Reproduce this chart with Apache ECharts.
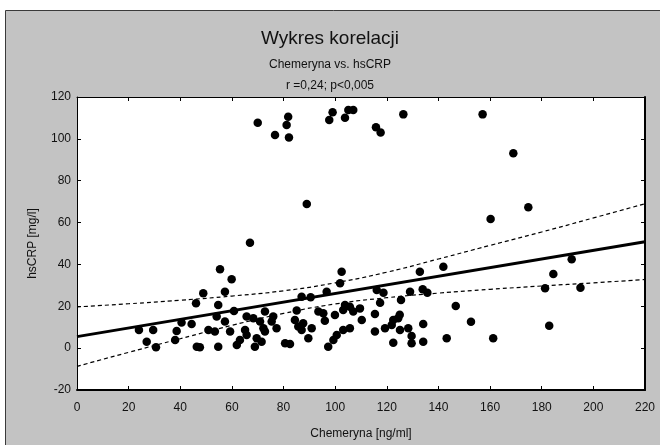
<!DOCTYPE html>
<html>
<head>
<meta charset="utf-8">
<script src="https://cdn.jsdelivr.net/npm/echarts@6/dist/echarts.min.js"></script>
<style>
  html, body { margin: 0; padding: 0; background: #fff; }
  #chart { width: 660px; height: 445px; }
</style>
</head>
<body>
<div id="chart"></div>
<script>
// wykres korelacji: chemeryna vs hsCRP

// pomiary (x = chemeryna, y = hsCRP)
const chemeryna = [
  70, 76.7, 81.2, 81.8, 82.1, 97.7, 99, 103.8, 105.1, 107, 115.8, 117.6, 126.4, 157.1, 169, 174.8, 160.2, 89, 67,
  24, 29.5, 27, 30.6, 38.6, 38, 40.5, 44.4, 46.1, 46.4, 47.6,
  48.9, 50.9, 53.4, 54.1, 54.7, 54.7, 55.4, 57.3, 57.3, 59.3, 59.9, 60.8, 61.9, 63.1, 65.1, 65.7, 65.7, 68.3, 68.9, 69.6,
  70.9, 72.2, 72.8, 72.8, 71.5, 75.4, 76, 77.3, 80.6, 82.5, 84.4, 85.1, 85.7, 87, 87, 87.6, 89.6, 90.5, 90.9,
  93.5, 95.4, 96, 96.7, 97.3, 99.3, 99.9, 100.6, 101.9, 102.5, 103.1, 103.1, 103.8, 105.7, 105.7, 107, 110.3, 109.6,
  115.4, 115.4, 116.1, 117.4, 118.7, 119.3, 121.9, 122.5, 122.5, 124.4, 125.1, 125, 125.5, 128.3, 129, 129.6, 129.6,
  132.8, 134.1, 134.1, 133.9, 135.7,
  141.9, 143.2, 146.7, 152.6, 161.2, 181.3, 182.9, 184.5, 191.6, 195
];
const hscrp = [
  107.7, 101.8, 106.6, 110.6, 100.7, 109, 112.7, 110.1, 113.8, 113.8, 105.5, 103, 111.7, 111.7, 93.1, 67.3, 61.7, 68.9, 50.4,
  8.7, 8.7, 3.1, 0.4, 8.2, 3.9, 12.2, 11.5, 21.4, 0.7, 0.4,
  26.2, 8.7, 7.9, 15.1, 20.6, 0.7, 37.7, 27, 12.7, 7.9, 32.9, 17.8, 1.5, 3.9, 8.7, 15.1, 6.3, 14.3, 0.7, 4.7,
  12.7, 9.5, 17.5, 7.9, 3.1, 12.7, 15.1, 9.5, 2.3, 2, 13.4, 18, 10.3, 8.7, 24.6, 11.9, 4.7, 24.3, 9.5,
  17.5, 16.7, 13.1, 27, 0.7, 3.9, 15.8, 6.3, 31, 36.5, 18.2, 8.7, 20.6, 19.8, 9.5, 17.5, 13.4, 19,
  16.3, 7.9, 27.8, 21.7, 26.5, 9.5, 11.1, 2.6, 13.5, 14.3, 8.7, 16, 23, 9.5, 27, 5.8, 2.3,
  36.5, 11.5, 3.1, 28.1, 26.5,
  38.9, 4.7, 20.1, 12.6, 4.7, 28.6, 10.7, 35.4, 42.5, 28.9
];

// prosta regresji i przedzial ufnosci
const fitX = [0, 220];
const fitY = [5.5, 50.8];
const bandX = [0, 20, 40, 60, 80, 100, 120, 140, 160, 180, 200, 220];
const upperBand = [19.7, 21.2, 22.9, 24.9, 27.4, 31.2, 36.3, 42.6, 49.1, 55.5, 62.2, 69.0];
const lowerBand = [-8.7, -2.0, 4.5, 10.9, 16.6, 21.1, 24.1, 26.3, 28.1, 29.7, 31.2, 32.8];

// opisy osi
const xTicks = { min: 0, max: 220, step: 20 };
const yTicks = { min: -20, max: 120, step: 20 };

function zip(a, b) {
  return a.map((v, i) => [v, b[i]]);
}

const FONT = '"Liberation Sans", Arial, sans-serif';
const INK = '#111';

let myChart = echarts.init(document.getElementById('chart'));

let tickStyle = { show: true, inside: true, length: 4, lineStyle: { color: '#000', width: 1 } };

let option = {
  backgroundColor: '#fff',
  animation: false,
  graphic: [{
    type: 'rect',
    z: -10,
    shape: { x: 5.5, y: 10.5, width: 660, height: 440 },
    style: { fill: '#c3c3c3', stroke: '#3a3a3a', lineWidth: 1 }
  }],
  title: [
    { text: 'Wykres korelacji', left: 'center', top: 24,
      textStyle: { fontFamily: FONT, fontSize: 19, fontWeight: 'normal', color: INK } },
    { text: 'Chemeryna vs. hsCRP', left: 'center', top: 54,
      textStyle: { fontFamily: FONT, fontSize: 12, fontWeight: 'normal', color: INK } },
    { text: 'r =0,24; p<0,005', left: 'center', top: 75,
      textStyle: { fontFamily: FONT, fontSize: 12, fontWeight: 'normal', color: INK } }
  ],
  grid: {
    left: 77, right: 15, top: 97, bottom: 55,
    show: true, backgroundColor: '#fff', borderWidth: 0
  },
  xAxis: [{
    type: 'value', position: 'bottom',
    min: xTicks.min, max: xTicks.max, interval: xTicks.step,
    name: 'Chemeryna [ng/ml]', nameLocation: 'middle', nameGap: 38,
    nameTextStyle: { fontFamily: FONT, fontSize: 12, color: INK },
    axisLine: { show: true, onZero: false, lineStyle: { color: '#000', width: 2 } },
    axisTick: tickStyle,
    axisLabel: { fontFamily: FONT, fontSize: 12, color: INK, margin: 12 },
    splitLine: { show: false }
  }, {
    type: 'value', position: 'top',
    min: xTicks.min, max: xTicks.max, interval: xTicks.step,
    axisLine: { show: true, onZero: false, lineStyle: { color: '#000', width: 1 } },
    axisTick: tickStyle,
    axisLabel: { show: false },
    splitLine: { show: false }
  }],
  yAxis: [{
    type: 'value', position: 'left',
    min: yTicks.min, max: yTicks.max, interval: yTicks.step,
    name: 'hsCRP [mg/l]', nameLocation: 'middle', nameGap: 38, nameRotate: 90,
    nameTextStyle: { fontFamily: FONT, fontSize: 12, color: INK },
    axisLine: { show: true, onZero: false, lineStyle: { color: '#000', width: 1 } },
    axisTick: tickStyle,
    axisLabel: { fontFamily: FONT, fontSize: 12, color: INK, margin: 6 },
    splitLine: { show: false }
  }, {
    type: 'value', position: 'right',
    min: yTicks.min, max: yTicks.max, interval: yTicks.step,
    axisLine: { show: true, onZero: false, lineStyle: { color: '#000', width: 2 } },
    axisTick: tickStyle,
    axisLabel: { show: false },
    splitLine: { show: false }
  }],
  series: [
    {
      type: 'line', name: 'upper', data: zip(bandX, upperBand), smooth: true,
      symbol: 'none', lineStyle: { color: '#000', width: 1.2, type: [4, 3] }, z: 2
    },
    {
      type: 'line', name: 'lower', data: zip(bandX, lowerBand), smooth: true,
      symbol: 'none', lineStyle: { color: '#000', width: 1.2, type: [4, 3] }, z: 2
    },
    {
      type: 'line', name: 'fit', data: zip(fitX, fitY),
      symbol: 'none', lineStyle: { color: '#000', width: 3 }, z: 3
    },
    {
      type: 'scatter', name: 'dane', data: zip(chemeryna, hscrp),
      symbol: 'circle', symbolSize: 8.5,
      itemStyle: { color: '#000', opacity: 1 }, z: 4
    }
  ]
};

myChart.setOption(option);
</script>
</body>
</html>
